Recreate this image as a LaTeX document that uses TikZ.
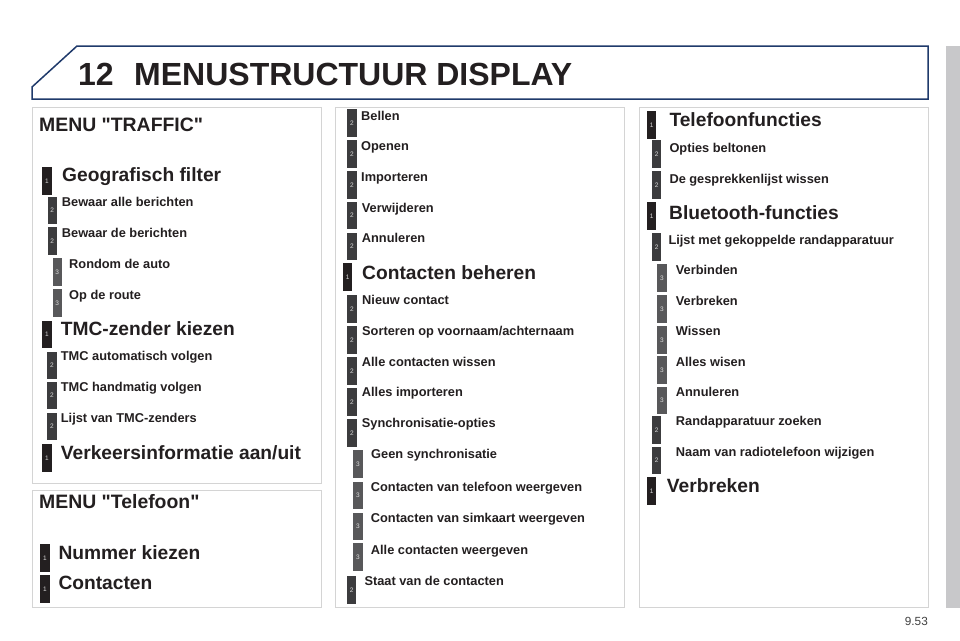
\documentclass[tikz,border=0pt]{standalone}
\usepackage{fontspec}
\setmainfont{Liberation Sans}

\definecolor{inkblack}{HTML}{231F20}
\definecolor{lvl1}{HTML}{231F20}
\definecolor{lvl2}{HTML}{3C3C3E}
\definecolor{lvl3}{HTML}{58585A}
\definecolor{headnavy}{HTML}{1F3A6B}
\definecolor{panelgray}{HTML}{D4D4D4}
\definecolor{sidebar}{HTML}{C8C8CA}

\tikzset{
  badge/.style={draw=none, minimum width=9.5pt, minimum height=27.5pt, inner sep=0pt,
    anchor=north west, text=white!85!black, font=\fontsize{6.5}{7}\selectfont},
  head/.style={anchor=base west, inner sep=0pt, text=inkblack, font=\fontsize{19.4}{22}\selectfont\bfseries},
  itemone/.style={anchor=base west, inner sep=0pt, text=inkblack, font=\fontsize{19.2}{22}\selectfont\bfseries},
  itemtwo/.style={anchor=base west, inner sep=0pt, text=inkblack, font=\fontsize{12.8}{15}\selectfont\bfseries},
  panel/.style={draw=panelgray, line width=1pt},
}

\begin{document}
\begin{tikzpicture}[x=1pt, y=-1pt]
    \useasboundingbox[fill=white] (0,0) rectangle (960,640);

    % header and side bar
    \fill[sidebar] (946,46) rectangle (960,608);
    \draw[headnavy, line width=1.5pt] (77,46) -- (928,46) -- (928,99) -- (32,99) -- (32,87) -- cycle;
    \node[anchor=base west, inner sep=0pt, text=inkblack, font=\fontsize{32}{36}\selectfont\bfseries] (chapnum) at (78,85.5) {12};
    \node[anchor=base west, inner sep=0pt, text=inkblack, font=\fontsize{32}{36}\selectfont\bfseries] (chaptitle) at (134,85.5) {MENUSTRUCTUUR DISPLAY};

    % panels
    \draw[panel] (32.5,107) rectangle (321,483);
    \draw[panel] (32.5,490) rectangle (321,607.5);
    \draw[panel] (335,107) rectangle (624,607.5);
    \draw[panel] (639,107) rectangle (928,607.5);

    % level badges
    \foreach \px/\py/\lv [count=\i] in {42/167/1, 47.3/196.7/2, 47.3/227/2, 52.3/258/3, 52.3/289/3,
        42/320.7/1, 47/351.7/2, 47/381.7/2, 47/412.7/2, 42/444/1, 40/544/1, 40/575/1,
        347/109/2, 347/140/2, 347/171/2, 347/201.7/2, 347/232.7/2, 342.7/263/1,
        347/295/2, 347/326/2, 347/357/2, 347/388/2, 347/419/2,
        353/450/3, 353/481.7/3, 353/512.7/3, 353/543/3, 346.7/576/2,
        646.7/111/1, 651.7/140/2, 651.7/171/2, 646.7/202/1, 651.7/233/2,
        657/264/3, 657/295/3, 657/326/3, 657/356/3, 657/386.7/3,
        651.7/416/2, 651.7/446.7/2, 646.7/477/1}
      \node[badge, fill=lvl\lv] (badge-\i) at (\px,\py) {\lv};

    % MENU "TRAFFIC"
    \node[head] (menutraffic) at (39,131) {MENU \textquotedbl TRAFFIC\textquotedbl};
    \node[itemone] (geofilter) at (62,181) {Geografisch filter};
    \node[itemtwo] (bewaaralle) at (61.7,206.7) {Bewaar alle berichten};
    \node[itemtwo] (bewaarde) at (61.7,237.5) {Bewaar de berichten};
    \node[itemtwo] (rondom) at (69,268) {Rondom de auto};
    \node[itemtwo] (oproute) at (69,299) {Op de route};
    \node[itemone] (tmckiezen) at (60.7,335.7) {TMC-zender kiezen};
    \node[itemtwo] (tmcauto) at (60.7,360.7) {TMC automatisch volgen};
    \node[itemtwo] (tmchand) at (60.7,391.7) {TMC handmatig volgen};
    \node[itemtwo] (tmclijst) at (60.7,422.7) {Lijst van TMC-zenders};
    \node[itemone] (verkeer) at (60.7,459) {Verkeersinformatie aan/uit};

    % MENU "Telefoon"
    \node[head] (menutel) at (39,508.5) {MENU \textquotedbl Telefoon\textquotedbl};
    \node[itemone] (nummer) at (58.3,559) {Nummer kiezen};
    \node[itemone] (contacten) at (58.3,589) {Contacten};

    % middle column
    \node[itemtwo] (bellen) at (361,120) {Bellen};
    \node[itemtwo] (openen) at (361,150.7) {Openen};
    \node[itemtwo] (importeren) at (361,181.7) {Importeren};
    \node[itemtwo] (verwijderen) at (361.7,212.3) {Verwijderen};
    \node[itemtwo] (annuleren) at (361.7,242.7) {Annuleren};
    \node[itemone] (beheren) at (362,279) {Contacten beheren};
    \node[itemtwo] (nieuw) at (362,304.3) {Nieuw contact};
    \node[itemtwo] (sorteren) at (362,335) {Sorteren op voornaam/achternaam};
    \node[itemtwo] (allewissen) at (361.7,366) {Alle contacten wissen};
    \node[itemtwo] (allesimport) at (361.7,396.7) {Alles importeren};
    \node[itemtwo] (syncopties) at (361.7,427.7) {Synchronisatie-opties};
    \node[itemtwo] (geensync) at (371,458.7) {Geen synchronisatie};
    \node[itemtwo] (vantelefoon) at (370.7,491.7) {Contacten van telefoon weergeven};
    \node[itemtwo] (vansim) at (370.7,522.3) {Contacten van simkaart weergeven};
    \node[itemtwo] (alleweerg) at (370.7,554) {Alle contacten weergeven};
    \node[itemtwo] (staat) at (364.3,585.7) {Staat van de contacten};

    % right column
    \node[itemone] (telfunc) at (669.3,126) {Telefoonfuncties};
    \node[itemtwo] (beltonen) at (669.3,152.3) {Opties beltonen};
    \node[itemtwo] (gesprek) at (669.3,183.3) {De gesprekkenlijst wissen};
    \node[itemone] (btfunc) at (669,219) {Bluetooth-functies};
    \node[itemtwo] (lijstrand) at (668.3,244) {Lijst met gekoppelde randapparatuur};
    \node[itemtwo] (verbinden) at (675.7,274.3) {Verbinden};
    \node[itemtwo] (verbreken) at (675.7,305) {Verbreken};
    \node[itemtwo] (wissen) at (675.7,335.7) {Wissen};
    \node[itemtwo] (alleswisen) at (675.7,366) {Alles wisen};
    \node[itemtwo] (annulbt) at (675.7,396) {Annuleren};
    \node[itemtwo] (randzoek) at (675.7,425.3) {Randapparatuur zoeken};
    \node[itemtwo] (naamradio) at (675.7,456) {Naam van radiotelefoon wijzigen};
    \node[itemone] (verbrekentop) at (666.7,492.7) {Verbreken};

    \node[anchor=base east, inner sep=0pt, text=black!75, font=\fontsize{11.8}{13}\selectfont] (pagenum) at (928,625) {9.53};
  \end{tikzpicture}
\end{document}
